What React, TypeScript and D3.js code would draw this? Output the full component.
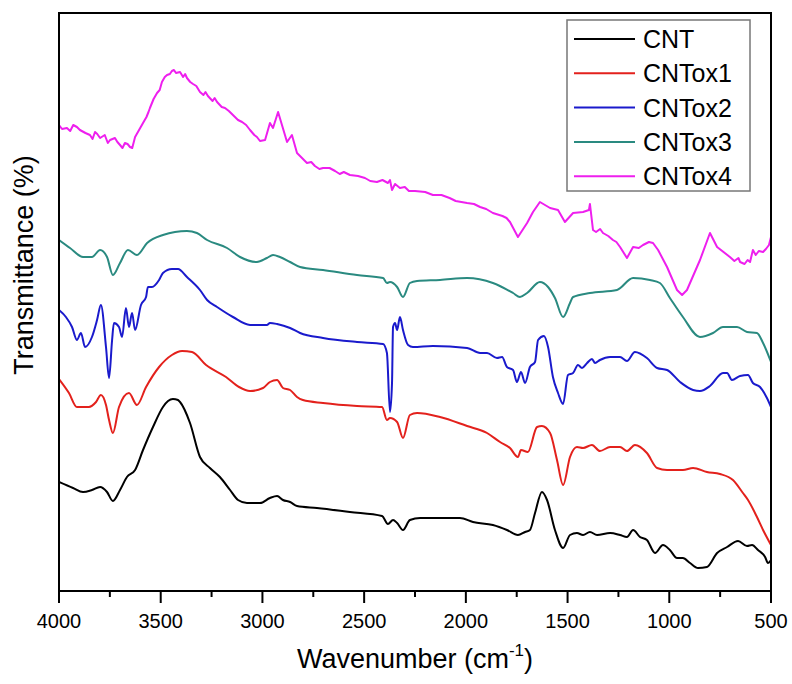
import React from 'react';
import * as d3 from 'd3';

const seriesNames = ['CNT', 'CNTox1', 'CNTox2', 'CNTox3', 'CNTox4'];
const seriesColors = ['#000000', '#e3211c', '#1a1acc', '#2a8a80', '#ee1fee'];
const majorTicks = [4000, 3500, 3000, 2500, 2000, 1500, 1000, 500];
const minorTicks = [3750, 3250, 2750, 2250, 1750, 1250, 750];

// [wavenumber (cm-1), transmittance (a.u., offset)]
const cnt: [number, number][] = [
  [4000, 10.9], [3931, 10.3], [3882, 9.9], [3838, 10.1], [3798, 10.4], [3764, 9.9], [3735, 9.0], [3700, 10.1],
  [3666, 11.4], [3626, 12.1], [3587, 14.1], [3538, 16.4], [3489, 18.4], [3464, 19.0], [3440, 19.2], [3415, 19.1], [3405, 18.9],
  [3356, 16.8], [3307, 13.4], [3258, 12.3], [3209, 11.4], [3159, 10.1], [3120, 9.1], [3076, 8.8], [3012, 8.8],
  [2963, 9.3], [2928, 9.5], [2899, 9.1], [2864, 8.9], [2830, 8.5], [2732, 8.3], [2570, 7.9], [2412, 7.5],
  [2383, 6.7], [2358, 7.1], [2338, 6.8], [2309, 6.1], [2275, 7.1], [2225, 7.3], [2029, 7.3], [1965, 6.9],
  [1867, 6.6], [1798, 6.1], [1744, 5.6], [1709, 5.9], [1685, 6.1], [1660, 7.8], [1626, 9.9], [1601, 9.1],
  [1562, 6.1], [1522, 4.3], [1488, 5.6], [1454, 5.8], [1424, 5.6], [1390, 5.9], [1355, 5.6], [1291, 5.8],
  [1242, 5.6], [1208, 5.4], [1178, 6.1], [1144, 5.4], [1110, 5.1], [1070, 3.8], [1031, 4.6], [997, 4.1],
  [962, 3.3], [933, 3.3], [898, 2.8], [859, 2.3], [815, 2.4], [765, 3.8], [716, 4.4], [662, 5.0],
  [618, 4.5], [593, 4.6], [564, 4.1], [529, 3.4], [515, 2.8], [500, 3.1],
];

const cntox1: [number, number][] = [
  [4000, 21.2], [3951, 19.8], [3912, 18.4], [3853, 18.4], [3818, 18.9], [3794, 19.6], [3769, 18.6], [3754, 17.1],
  [3735, 15.8], [3705, 18.4], [3656, 19.8], [3617, 18.6], [3572, 20.4], [3508, 22.4], [3445, 23.6], [3395, 24.0],
  [3346, 23.9], [3277, 22.6], [3179, 21.4], [3115, 20.4], [3061, 20.0], [2997, 20.3], [2963, 20.9], [2928, 21.1],
  [2899, 20.3], [2864, 20.1], [2830, 19.4], [2801, 19.1], [2702, 18.8], [2535, 18.5], [2412, 18.4], [2388, 17.1],
  [2373, 17.3], [2338, 16.9], [2309, 15.3], [2275, 17.6], [2240, 17.8], [2127, 17.4], [1994, 16.5], [1896, 15.8],
  [1832, 14.9], [1783, 14.3], [1744, 13.4], [1729, 14.1], [1695, 13.9], [1650, 16.4], [1626, 16.5], [1586, 15.8],
  [1552, 13.1], [1522, 10.6], [1488, 13.4], [1454, 14.4], [1424, 14.3], [1380, 14.6], [1341, 14.0], [1291, 14.4],
  [1242, 14.4], [1208, 14.0], [1169, 14.6], [1110, 13.8], [1060, 12.3], [1011, 12.1], [933, 12.1], [883, 12.3],
  [815, 11.9], [751, 11.7], [687, 11.1], [638, 9.8], [613, 9.1], [569, 7.4], [539, 6.1], [500, 4.6],
];

const cntox2: [number, number][] = [
  [4000, 28.1], [3966, 27.4], [3936, 26.4], [3912, 25.1], [3892, 25.8], [3872, 24.4], [3838, 25.4], [3813, 27.1],
  [3794, 28.6], [3769, 24.4], [3754, 21.3], [3739, 25.1], [3730, 26.8], [3705, 26.4], [3690, 25.4], [3671, 28.3],
  [3656, 26.4], [3641, 27.8], [3626, 26.1], [3597, 28.6], [3572, 29.4], [3563, 30.4], [3543, 30.4], [3508, 31.1],
  [3489, 31.8], [3445, 32.2], [3415, 32.2], [3371, 31.4], [3307, 30.1], [3272, 29.1], [3223, 28.4], [3145, 27.4],
  [3061, 26.6], [2978, 26.6], [2963, 26.8], [2928, 26.7], [2864, 26.3], [2815, 25.8], [2702, 25.3], [2535, 24.9],
  [2407, 24.7], [2388, 23.8], [2373, 17.9], [2363, 20.8], [2358, 26.4], [2348, 26.8], [2338, 26.1], [2324, 27.4],
  [2309, 26.1], [2284, 24.6], [2260, 24.4], [2162, 24.5], [1994, 24.3], [1930, 23.8], [1896, 23.8], [1847, 23.3],
  [1822, 23.4], [1798, 22.4], [1768, 22.1], [1749, 20.9], [1729, 21.9], [1709, 20.8], [1685, 22.4], [1660, 22.9],
  [1645, 25.1], [1616, 25.5], [1596, 24.4], [1572, 21.4], [1547, 19.8], [1522, 18.7], [1498, 21.6], [1473, 21.8],
  [1449, 22.6], [1429, 22.3], [1404, 22.8], [1380, 23.2], [1365, 22.8], [1341, 23.1], [1291, 23.4], [1242, 23.4],
  [1208, 23.0], [1169, 23.9], [1110, 23.3], [1060, 22.3], [1011, 22.1], [947, 20.9], [883, 20.1], [849, 20.0],
  [800, 20.5], [736, 21.8], [716, 21.8], [692, 21.1], [652, 21.5], [613, 21.6], [589, 20.8], [554, 20.4],
  [520, 19.3], [500, 18.4],
];

const cntox3: [number, number][] = [
  [4000, 35.1], [3946, 34.3], [3882, 33.4], [3838, 33.4], [3798, 34.1], [3764, 33.4], [3735, 31.6], [3700, 32.8],
  [3661, 34.1], [3617, 33.6], [3567, 34.8], [3489, 35.6], [3371, 36.0], [3322, 35.8], [3272, 35.1], [3174, 34.3],
  [3110, 33.4], [3027, 32.9], [2978, 33.3], [2948, 33.6], [2914, 33.4], [2864, 32.9], [2815, 32.4], [2702, 32.1],
  [2535, 31.6], [2407, 31.3], [2388, 30.8], [2373, 30.9], [2338, 30.4], [2309, 29.4], [2275, 30.8], [2240, 31.0],
  [2127, 31.1], [1994, 31.3], [1867, 30.8], [1768, 29.8], [1734, 29.4], [1699, 29.8], [1636, 30.9], [1596, 30.4],
  [1562, 29.3], [1522, 27.4], [1488, 28.8], [1473, 29.4], [1390, 29.8], [1257, 30.1], [1178, 31.3], [1095, 31.1],
  [1046, 30.8], [997, 29.3], [933, 27.4], [849, 25.4], [785, 25.8], [736, 26.4], [667, 26.4], [618, 25.9],
  [569, 25.8], [539, 24.8], [500, 22.9],
];

const cntox4: [number, number][] = [
  [4000, 46.6], [3985, 46.2], [3961, 46.3], [3945, 46.0], [3930, 46.6], [3912, 46.4], [3897, 46.1], [3870, 45.8],
  [3848, 45.6], [3835, 45.2], [3823, 45.9], [3812, 45.7], [3798, 45.3], [3775, 45.6], [3760, 44.8], [3749, 45.1],
  [3725, 45.3], [3713, 44.9], [3700, 44.6], [3688, 44.3], [3676, 44.8], [3663, 44.7], [3651, 44.4], [3640, 44.3],
  [3626, 45.4], [3587, 46.8], [3570, 47.4], [3560, 47.9], [3553, 48.3], [3535, 49.2], [3518, 49.8], [3505, 50.1],
  [3494, 50.9], [3480, 51.4], [3469, 51.6], [3455, 51.7], [3445, 52.0], [3435, 52.1], [3425, 51.8], [3405, 51.9],
  [3390, 51.4], [3380, 51.7], [3371, 51.3], [3355, 50.9], [3341, 50.7], [3325, 50.5], [3307, 49.9], [3290, 49.6],
  [3280, 49.9], [3268, 49.5], [3245, 49.0], [3235, 49.3], [3223, 48.9], [3200, 48.4], [3184, 48.3], [3165, 48.0],
  [3145, 47.6], [3120, 47.1], [3100, 46.9], [3080, 46.6], [3061, 46.1], [3040, 45.6], [3027, 45.4], [3012, 45.0],
  [2987, 45.1], [2963, 46.8], [2948, 46.3], [2923, 47.9], [2904, 46.6], [2879, 44.9], [2855, 45.6], [2830, 43.8],
  [2781, 42.8], [2760, 42.9], [2742, 42.5], [2720, 42.2], [2702, 42.3], [2670, 42.3], [2643, 42.0], [2620, 41.7],
  [2600, 41.9], [2570, 41.6], [2530, 41.5], [2496, 41.3], [2470, 41.0], [2437, 40.9], [2410, 41.1], [2383, 40.8],
  [2373, 41.1], [2363, 40.1], [2348, 40.7], [2324, 40.3], [2300, 40.4], [2280, 40.0], [2250, 40.0], [2200, 39.9],
  [2162, 39.6], [2120, 39.6], [2080, 39.3], [2050, 39.0], [1994, 38.8], [1960, 38.7], [1930, 38.4], [1900, 38.2],
  [1867, 37.8], [1820, 37.5], [1800, 37.3], [1783, 36.9], [1744, 35.4], [1699, 36.8], [1670, 37.9], [1636, 38.9],
  [1586, 38.3], [1547, 38.1], [1513, 36.9], [1473, 37.8], [1424, 37.9], [1395, 38.1], [1390, 38.7], [1375, 36.1],
  [1360, 35.9], [1340, 36.2], [1326, 35.8], [1300, 35.5], [1277, 35.1], [1260, 34.9], [1242, 34.4], [1208, 33.3],
  [1178, 34.4], [1150, 34.3], [1129, 34.6], [1100, 34.9], [1080, 34.8], [1055, 34.1], [1011, 32.4], [962, 30.1],
  [937, 29.6], [913, 30.1], [849, 33.1], [800, 35.8], [765, 34.4], [702, 33.4], [680, 33.0], [660, 33.3],
  [652, 32.9], [630, 32.7], [615, 33.1], [603, 32.9], [589, 34.1], [575, 33.6], [560, 34.0], [539, 33.9],
  [525, 34.2], [510, 34.6], [500, 35.4],
];

const seriesData = [cnt, cntox1, cntox2, cntox3, cntox4];

const FONT = '"Liberation Sans", Arial, Helvetica, sans-serif';

export default function App() {
  const W = 792;
  const H = 684;
  const left = 59, right = 771, top = 13, bottom = 591;
  const x = d3.scaleLinear().domain([4000, 500]).range([left, right]);
  const y = d3.scaleLinear().domain([0, 57.8]).range([bottom, top]);
  const smooth = d3
    .line<[number, number]>()
    .x((d) => x(d[0]))
    .y((d) => y(d[1]))
    .curve(d3.curveMonotoneX);
  const jagged = d3
    .line<[number, number]>()
    .x((d) => x(d[0]))
    .y((d) => y(d[1]))
    .curve(d3.curveLinear);

  const legX = 567, legY = 20, legW = 183, legH = 171;
  const rowY = (i: number) => 39 + i * 34.3;

  return (
    <svg
      width={W}
      height={H}
      viewBox={`0 0 ${W} ${H}`}
      style={{ position: 'absolute', left: 0, top: 0, background: '#fff' }}
      fontFamily={FONT}
    >
      <rect x={0} y={0} width={W} height={H} fill="#fff" />
      <defs>
        <clipPath id="plotclip">
          <rect x={left} y={top} width={right - left} height={bottom - top} />
        </clipPath>
      </defs>
      <g clipPath="url(#plotclip)">
        {seriesData.map((s, i) => {
          const sorted = d3.sort(s, (a, b) => b[0] - a[0]) as [number, number][];
          const gen = i === 4 ? jagged : smooth;
          return (
            <path
              key={seriesNames[i]}
              d={gen(sorted) || ''}
              fill="none"
              stroke={seriesColors[i]}
              strokeWidth={2}
              strokeLinejoin="round"
            />
          );
        })}
      </g>
      {/* frame */}
      <rect x={left} y={top} width={right - left} height={bottom - top} fill="none" stroke="#000" strokeWidth={2} />
      {/* ticks */}
      {majorTicks.map((t) => (
        <g key={'M' + t}>
          <line x1={x(t)} x2={x(t)} y1={bottom} y2={bottom + 12} stroke="#000" strokeWidth={2} />
          <text x={x(t)} y={628} fontSize={20} textAnchor="middle" fill="#000">
            {t}
          </text>
        </g>
      ))}
      {minorTicks.map((t) => (
        <line key={'m' + t} x1={x(t)} x2={x(t)} y1={bottom} y2={bottom + 6} stroke="#000" strokeWidth={2} />
      ))}
      {/* axis titles */}
      <text x={(left + right) / 2} y={668} fontSize={27} textAnchor="middle" fill="#000">
        Wavenumber (cm
        <tspan fontSize={17} dy={-12}>-1</tspan>
        <tspan dy={12}>)</tspan>
      </text>
      <text
        transform={`translate(33, 265) rotate(-90)`}
        fontSize={27}
        textAnchor="middle"
        fill="#000"
      >
        Transmittance (%)
      </text>
      {/* legend */}
      <rect x={legX} y={legY} width={legW} height={legH} fill="#fff" stroke="#777" strokeWidth={1.5} />
      {seriesNames.map((n, i) => (
        <g key={'leg' + n}>
          <line x1={574} x2={635} y1={rowY(i)} y2={rowY(i)} stroke={seriesColors[i]} strokeWidth={2} />
          <text x={643} y={rowY(i) + 9} fontSize={25} fill="#000">
            {n}
          </text>
        </g>
      ))}
    </svg>
  );
}
